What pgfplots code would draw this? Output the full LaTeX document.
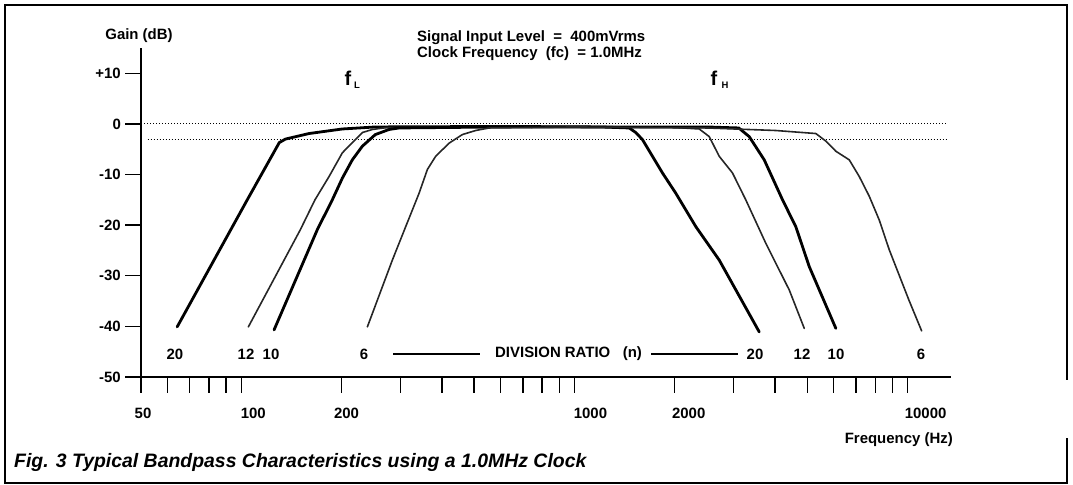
\documentclass[border=0pt]{standalone}
\usepackage{pgfplots}
\pgfplotsset{compat=1.18}
\usepackage{fontspec}
\setmainfont{Liberation Sans}
\pgfplotstableread{
f db
64.2 -40.1
104.2 -15.0
130.0 -3.7
135.6 -3.0
159.7 -1.9
201 -1.0
252.6 -0.6
600 -0.5
1200 -0.6
1460 -0.8
1528 -1.7
1600 -3.1
1715 -6.4
1838 -9.7
2015 -13.7
2314 -20.3
2720 -26.9
3587 -41.1
}\ntwenty
\pgfplotstableread{
f db
105 -40.1
150.4 -20.9
166.4 -15.0
183.4 -10.4
201.1 -5.7
215.4 -3.7
230.9 -1.7
247.4 -1.1
274.4 -0.7
600 -0.5
2000 -0.7
2369 -1.0
2538 -2.5
2720 -6.4
2982 -9.7
3268 -15.0
3754 -23.6
4413 -32.8
4896 -40.4
}\ntwelve
\pgfplotstableread{
f db
125.4 -40.7
169.1 -20.9
187.6 -15.0
201.1 -10.7
215.4 -7.1
230.9 -4.4
252.6 -2.1
277.7 -1.1
297.6 -0.8
600 -0.6
2500 -0.6
3113 -0.8
3346 -2.5
3713 -7.1
4213 -15.0
4618 -20.3
5068 -28.2
6091 -40.4
}\nten
\pgfplotstableread{
f db
239.0 -40.1
284.1 -26.9
311.5 -20.3
341.7 -13.7
361.9 -9.0
383.2 -6.4
420.5 -3.8
461.0 -2.1
505.4 -1.3
554.3 -0.8
1000 -0.6
2500 -0.8
4015 -1.3
5304 -1.9
5684 -3.4
6091 -5.4
6682 -7.1
7161 -10.4
7674 -14.3
8222 -19.0
8813 -24.9
10090 -34.8
11020 -40.9
}\nsix
\begin{document}
\begin{tikzpicture}[x=1bp,y=1bp]
\useasboundingbox (0,0) rectangle (1073,485);
% outer frame
\draw[line width=2.2bp] (1067,105) -- (1067,480) -- (5,480) -- (5,2) -- (1067,2) -- (1067,47);
\begin{axis}[
  at={(141bp,108bp)}, anchor=south west,
  scale only axis, width=810bp, height=329bp,
  xmode=log, xmin=50, xmax=13500, ymin=-50, ymax=15,
  axis lines=left,
  axis line style={-, line width=1.6bp},
  tick style={line width=1.4bp, black},
  tick align=outside,
  major tick length=16bp, minor tick length=16bp,
  xtick={50,60,70,80,90,100,200,300,400,500,600,700,800,900,1000,2000,3000,4000,5000,6000,7000,8000,9000,10000},
  xticklabels={},
  ytick={-50,-40,-30,-20,-10,0,10},
  yticklabels={},
  clip=false,
  every axis plot/.append style={line join=round, line cap=round},
  font=\fontsize{15}{17}\selectfont\bfseries,
]
\addplot[line width=1bp, dash pattern=on 1bp off 2bp, line cap=butt] coordinates {(51.2,0) (13100,0)};
\addplot[line width=1bp, dash pattern=on 1bp off 2bp, line cap=butt] coordinates {(52.3,-3) (13100,-3)};
\addplot[line width=2.8bp, black] table[x=f, y=db] {\ntwenty};
\addplot[line width=1.6bp, black!85] table[x=f, y=db] {\ntwelve};
\addplot[line width=2.8bp, black] table[x=f, y=db] {\nten};
\addplot[line width=1.6bp, black!85] table[x=f, y=db] {\nsix};
% y tick labels
\node[anchor=east, inner sep=0pt, xshift=-20bp] at (axis cs:50,10) {+10};
\node[anchor=east, inner sep=0pt, xshift=-20bp] at (axis cs:50,0) {0};
\node[anchor=east, inner sep=0pt, xshift=-20bp] at (axis cs:50,-10) {-10};
\node[anchor=east, inner sep=0pt, xshift=-20bp] at (axis cs:50,-20) {-20};
\node[anchor=east, inner sep=0pt, xshift=-20bp] at (axis cs:50,-30) {-30};
\node[anchor=east, inner sep=0pt, xshift=-20bp] at (axis cs:50,-40) {-40};
\node[anchor=east, inner sep=0pt, xshift=-20bp] at (axis cs:50,-50) {-50};
% x tick labels
\node[inner sep=0pt, yshift=-36bp, xshift=2bp] at (axis cs:50,-50) {50};
\node[inner sep=0pt, yshift=-36bp, xshift=12bp] at (axis cs:100,-50) {100};
\node[inner sep=0pt, yshift=-36bp, xshift=5bp] at (axis cs:200,-50) {200};
\node[inner sep=0pt, yshift=-36bp, xshift=16bp] at (axis cs:1000,-50) {1000};
\node[inner sep=0pt, yshift=-36bp, xshift=14bp] at (axis cs:2000,-50) {2000};
\node[inner sep=0pt, yshift=-36bp, xshift=18bp] at (axis cs:10000,-50) {10000};
\end{axis}
\begin{scope}[font=\fontsize{15}{16}\selectfont\bfseries]
\node at (139,449) {Gain (dB)};
\node[anchor=west, align=left, inner sep=0pt] at (417,439) {Signal Input Level\ \ =\ \ 400mVrms\\Clock Frequency\ \ (fc)\ \ = 1.0MHz};
\node[anchor=east, inner sep=0pt] at (953,45) {Frequency (Hz)};
\node at (175,131) {20};
\node at (246,131) {12};
\node at (271,131) {10};
\node at (364,131) {6};
\node at (755,131) {20};
\node at (802,131) {12};
\node at (836,131) {10};
\node at (921,131) {6};
\node[anchor=west, inner sep=0pt] at (495,131) {DIVISION RATIO\ \ \ (n)};
\draw[line width=1.8bp] (393,131) -- (480,131);
\draw[line width=1.8bp] (651,131) -- (738,131);
\node[font=\fontsize{20}{21}\selectfont\bfseries] at (348,407) {f};
\node[font=\fontsize{9.5}{10}\selectfont\bfseries] at (357,400) {L};
\node[font=\fontsize{20}{21}\selectfont\bfseries] at (714,407) {f};
\node[font=\fontsize{9.5}{10}\selectfont\bfseries] at (725,400) {H};
\node[anchor=west, inner sep=0pt, font=\fontsize{19.5}{21}\selectfont\bfseries\itshape] at (14,23) {Fig. 3 Typical Bandpass Characteristics using a 1.0MHz Clock};
\end{scope}
\end{tikzpicture}
\end{document}
